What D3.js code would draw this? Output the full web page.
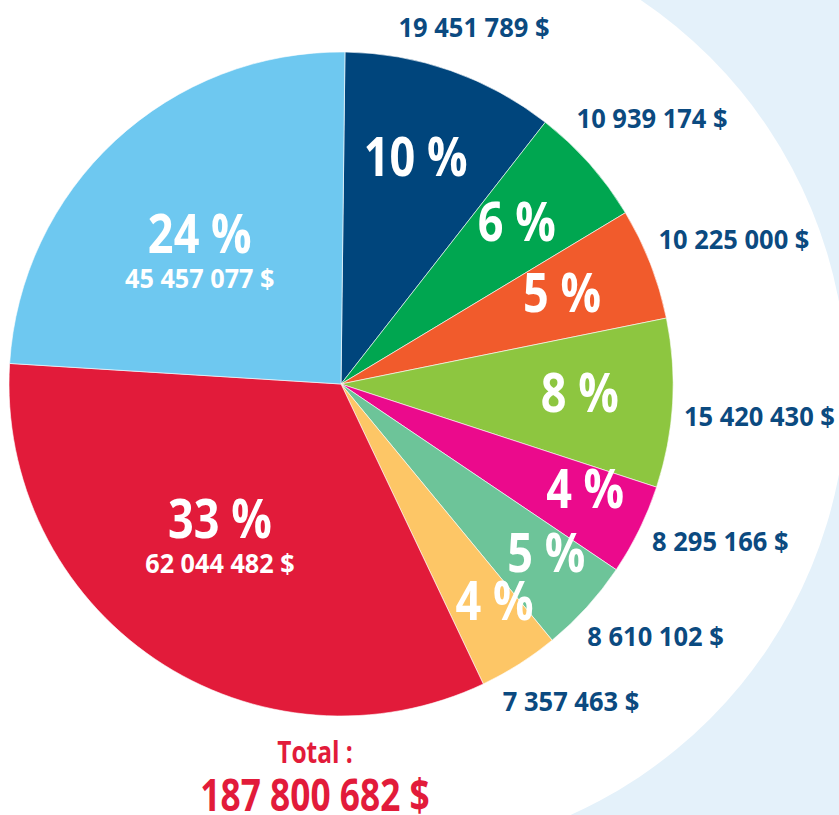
<!DOCTYPE html>
<html>
<head>
<meta charset="utf-8">
<script src="https://cdn.jsdelivr.net/npm/d3@7"></script>
<style>
  html, body { margin: 0; padding: 0; background: #e4f1fa; }
  svg { display: block; font-family: "Open Sans", "Noto Sans", sans-serif; }
</style>
</head>
<body>
<div id="chart"></div>
<script>
// slices, clockwise from 12 o'clock
var amounts = [19451789, 10939174, 10225000, 15420430, 8295166, 8610102, 7357463, 62044482, 45457077];
var percentLabels = ["10 %", "6 %", "5 %", "8 %", "4 %", "5 %", "4 %", "33 %", "24 %"];
var amountLabels = ["19 451 789 $", "10 939 174 $", "10 225 000 $", "15 420 430 $", "8 295 166 $",
  "8 610 102 $", "7 357 463 $", "62 044 482 $", "45 457 077 $"];
var sliceColors = ["#00457c", "#00a650", "#f15b2c", "#8dc640", "#eb0a8c", "#6dc499", "#fdc666", "#e21b3a", "#6ec8f0"];
var totalTitle = "Total :";
var totalLabel = "187 800 682 $";

var width = 839;
var height = 815;
var cx = 341, cy = 384, radius = 332;
var navy = "#0b4a80";

var svg = d3.select("#chart")
  .append("svg")
  .attr("width", width)
  .attr("height", height);

// white page with a pale blue curve on the right
svg.append("rect")
  .attr("width", 379)
  .attr("height", height)
  .attr("fill", "#fff");
svg.append("circle")
  .attr("cx", 379)
  .attr("cy", 388)
  .attr("r", 468)
  .attr("fill", "#fff");

var g = svg.append("g")
  .attr("transform", "translate(" + cx + "," + cy + ")");

var total = d3.sum(amounts);
var offset = 0.012;

var pie = d3.pie()
  .sort(null)
  .value((d) => d)
  .startAngle(offset)
  .endAngle(2 * Math.PI + offset);

var arcs = pie(amounts);
var arc = d3.arc().innerRadius(0).outerRadius(radius);

g.selectAll(".slice")
  .data(arcs)
  .enter()
  .append("path")
  .attr("class", "slice")
  .attr("d", arc)
  .attr("fill", (d, i) => sliceColors[i])
  .attr("stroke", "#fff")
  .attr("stroke-width", 0.6);

// how far in the percent sits, by slice share
function labelRatio(share) {
  if (share > 0.2) return 0.585;
  if (share < 0.05) return 0.8;
  return 0.72;
}

function condensed(sel, x, y, sx) {
  sel.attr("transform", "translate(" + x + "," + y + ") scale(" + sx + ",1)");
}

arcs.forEach(function (d, i) {
  var share = d.data / total;
  var mid = (d.startAngle + d.endAngle) / 2;
  var big = share > 0.2;
  var rr = radius * labelRatio(share);

  var a;
  if (big) a = mid + (1.5 * Math.PI - mid) * 0.08; // lean toward the left side
  else a = mid + (mid < 1.75 ? -0.02 : -0.05);
  var px = Math.sin(a) * rr;
  var py = -Math.cos(a) * rr;

  var pct = g.append("text")
    .attr("text-anchor", "middle")
    .attr("font-size", 53)
    .attr("font-weight", 700)
    .attr("fill", "#fff")
    .text(percentLabels[i]);

  if (big) {
    // percent + amount stacked inside the slice
    condensed(pct, px, py + 2, 0.85);
    var amt = g.append("text")
      .attr("text-anchor", "middle")
      .attr("font-size", 26)
      .attr("font-weight", 700)
      .attr("fill", "#fff")
      .text(amountLabels[i]);
    condensed(amt, px, py + 37, 0.97);
  } else {
    condensed(pct, px, py + 19, 0.85);

    // amount outside the pie
    var out = g.append("text")
      .attr("text-anchor", "middle")
      .attr("font-size", 26)
      .attr("font-weight", 700)
      .attr("fill", navy)
      .text(amountLabels[i]);
    var oa = mid + (mid < 1.75 ? 0.02 : -0.06);
    var hw = out.node().getComputedTextLength() / 2;
    var hh = 12;
    var dist = radius + 10 + Math.abs(Math.sin(oa)) * hw + Math.abs(Math.cos(oa)) * hh;
    var ox = Math.sin(oa) * dist;
    var oy = -Math.cos(oa) * dist;
    condensed(out, ox, oy + 9, 0.98);
  }
});

// total under the pie
var tt = svg.append("text")
  .attr("text-anchor", "middle")
  .attr("font-size", 31)
  .attr("font-weight", 700)
  .attr("fill", "#e21b3a")
  .text(totalTitle);
condensed(tt, 315, 763, 0.79);

var tv = svg.append("text")
  .attr("text-anchor", "middle")
  .attr("font-size", 45)
  .attr("font-weight", 700)
  .attr("fill", "#e21b3a")
  .text(totalLabel);
condensed(tv, 315, 811, 0.785);
</script>
</body>
</html>
